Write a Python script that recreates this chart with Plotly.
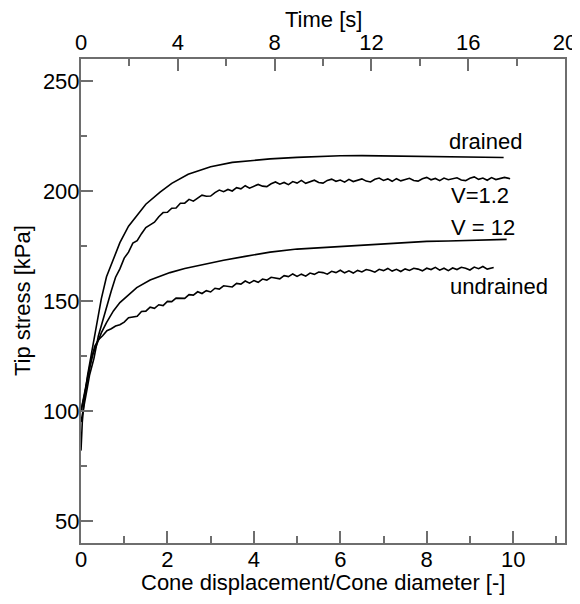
import plotly.graph_objects as go

# ---- data ----
drained_x = [0, 0.03, 0.08, 0.15, 0.25, 0.36, 0.47, 0.59, 0.75, 0.9, 1.1, 1.29, 1.5, 1.83,
             2.1, 2.48, 3.0, 3.5, 4.0, 4.375, 5.0, 5.5, 6.0, 6.5, 7.0, 7.5, 8.0, 8.5, 9.0, 9.4, 9.78]
drained_y = [82, 95, 106, 116, 127, 140, 151, 161, 169.5, 176.5, 184, 189, 194, 199.5,
             203.5, 207.6, 211, 213, 214, 214.6, 215.3, 215.7, 216, 216.1, 216, 215.9, 215.7, 215.5, 215.3, 215.2, 215.2]

v12_x = [0, 0.05, 0.1, 0.2, 0.28, 0.36, 0.47, 0.59, 0.75, 0.9, 1.1, 1.29, 1.6, 2.06, 2.4,
         2.83, 3.3, 3.8, 4.375, 5.0, 5.5, 6.0, 6.5, 7.0, 7.5, 8.0, 8.5, 9.0, 9.4, 9.85]
v12_y = [100, 105, 110, 120, 126, 130.3, 135.5, 140.2, 145.5, 149.3, 153, 156.1, 159.5, 162.9, 164.8,
         166.7, 168.5, 170.3, 172.2, 173.6, 174.2, 174.9, 175.6, 176.1, 176.6, 177.1, 177.3, 177.6, 177.9, 178.0]

v1_2_x = [0, 0.05, 0.1, 0.15, 0.2, 0.3, 0.4, 0.5, 0.6, 0.7, 0.8, 0.9,
          1.0, 1.1, 1.2, 1.3, 1.4, 1.5, 1.6, 1.7, 1.8, 1.9, 2.0, 2.1, 2.2, 2.3, 2.4, 2.5, 2.6, 2.7, 2.8, 2.9,
          3.0, 3.1, 3.2, 3.3, 3.4, 3.5, 3.6, 3.7, 3.8, 3.9, 4.0, 4.1, 4.2, 4.3, 4.4, 4.5, 4.6, 4.7, 4.8, 4.9,
          5.0, 5.1, 5.2, 5.3, 5.4, 5.5, 5.6, 5.7, 5.8, 5.9, 6.0, 6.1, 6.2, 6.3, 6.4, 6.5, 6.6, 6.7, 6.8, 6.9,
          7.0, 7.1, 7.2, 7.3, 7.4, 7.5, 7.6, 7.7, 7.8, 7.9, 8.0, 8.1, 8.2, 8.3, 8.4, 8.5, 8.6, 8.7, 8.8, 8.9,
          9.0, 9.1, 9.2, 9.3, 9.4, 9.5, 9.6, 9.7, 9.8, 9.93]
v1_2_y = [95, 101, 106.5, 111, 116.5, 124, 134, 141, 148.5, 154.5, 160.8, 164.6,
          169.5, 172.2, 176.3, 177.4, 180.6, 183.4, 184.6, 185.8, 188.3, 190.2, 190.3, 192.2, 192.3, 194.4, 194.5, 196.2, 195.4, 196.9, 198.1, 197.6,
          197.7, 199.3, 200.4, 199.7, 200.7, 200.0, 201.5, 201.0, 202.4, 201.3, 202.2, 203.0, 202.2, 202.0, 203.3, 204.1, 203.1, 203.9, 202.9, 204.3,
          203.6, 204.8, 203.5, 204.3, 204.9, 203.9, 203.6, 204.8, 205.4, 204.4, 205.0, 204.0, 205.3, 204.3, 204.9, 205.5, 204.5, 204.1, 205.3, 205.9,
          204.8, 205.5, 204.4, 205.6, 204.6, 205.3, 205.8, 204.8, 204.5, 205.6, 206.2, 205.1, 205.7, 204.7, 205.9, 205.1, 205.5, 206.0, 205.0, 204.7,
          205.8, 206.4, 205.3, 205.9, 204.9, 206.1, 205.2, 205.7, 206.2, 205.6]

und_x = [0, 0.05, 0.1, 0.15, 0.2, 0.25, 0.32, 0.4, 0.5, 0.6, 0.7, 0.8, 0.9,
         1.0, 1.1, 1.2, 1.3, 1.4, 1.5, 1.6, 1.7, 1.8, 1.9, 2.0, 2.1, 2.2, 2.3, 2.4, 2.5, 2.6, 2.7, 2.8, 2.9,
         3.0, 3.1, 3.2, 3.3, 3.4, 3.5, 3.6, 3.7, 3.8, 3.9, 4.0, 4.1, 4.2, 4.3, 4.4, 4.5, 4.6, 4.7, 4.8, 4.9,
         5.0, 5.1, 5.2, 5.3, 5.4, 5.5, 5.6, 5.7, 5.8, 5.9, 6.0, 6.1, 6.2, 6.3, 6.4, 6.5, 6.6, 6.7, 6.8, 6.9,
         7.0, 7.1, 7.2, 7.3, 7.4, 7.5, 7.6, 7.7, 7.8, 7.9, 8.0, 8.1, 8.2, 8.3, 8.4, 8.5, 8.6, 8.7, 8.8, 8.9,
         9.0, 9.1, 9.2, 9.3, 9.4, 9.55]
und_y = [100, 104, 109, 114, 119.5, 124.5, 129.5, 132.3, 134.2, 136.5, 137.4, 138.6, 139.2,
         140.4, 142.4, 142.9, 143.1, 145.2, 145.4, 147.2, 146.7, 148.3, 147.9, 149.8, 149.7, 151.3, 151.4, 151.2, 152.9, 152.7, 154.2, 153.4, 154.7,
         154.1, 155.8, 155.4, 156.9, 156.8, 156.4, 158.0, 157.7, 159.1, 158.1, 159.3, 158.5, 160.0, 159.5, 160.8, 160.6, 160.1, 161.5, 161.1, 162.3,
         161.2, 162.2, 161.3, 162.7, 162.1, 163.2, 162.9, 162.2, 163.5, 162.9, 164.0, 162.8, 163.7, 162.7, 163.9, 163.2, 164.3, 163.9, 163.1, 164.4,
         163.8, 164.8, 163.6, 164.4, 163.4, 164.6, 163.9, 164.9, 164.5, 163.7, 164.9, 164.3, 165.3, 164.0, 164.9, 163.8, 165.0, 164.3, 165.3, 164.9,
         164.1, 165.4, 164.7, 165.7, 164.5, 165.2]

series_names = ["drained", "V=1.2", "V = 12", "undrained"]
label_x = [9.35, 9.24, 9.30, 9.68]
label_y = [222.7, 198.0, 183.6, 156.8]

x_ticks = [0, 2, 4, 6, 8, 10]
time_ticks = [0, 4, 8, 12, 16, 20]
y_ticks = [50, 100, 150, 200, 250]

x_title = "Cone displacement/Cone diameter [-]"
time_title = "Time [s]"
y_title = "Tip stress [kPa]"

FONT = "Liberation Sans, Arial, sans-serif"
GRAY = "#6e6e6e"
FS = 22

fig = go.Figure()
line = dict(color="black", width=1.6)
for xs, ys, nm in [(drained_x, drained_y, series_names[0]), (v1_2_x, v1_2_y, series_names[1]),
                   (v12_x, v12_y, series_names[2]), (und_x, und_y, series_names[3])]:
    fig.add_trace(go.Scatter(x=xs, y=ys, mode="lines", line=line, name=nm,
                             showlegend=False, hoverinfo="skip"))

# invisible trace to carry the time axis
fig.add_trace(go.Scatter(x=[time_ticks[0], time_ticks[-1]], y=[100, 100], xaxis="x2",
                         mode="lines", line=dict(width=0), opacity=0,
                         showlegend=False, hoverinfo="skip"))

for nm, lx, ly in zip(series_names, label_x, label_y):
    fig.add_annotation(x=lx, y=ly, text=nm, showarrow=False,
                       font=dict(family=FONT, size=FS, color="black"))

tfont = dict(family=FONT, size=FS, color="black")
# axis titles
fig.add_annotation(xref="paper", yref="paper", x=0.5, y=-0.0826, text=x_title,
                   showarrow=False, font=tfont, xanchor="center", yanchor="middle")
fig.add_annotation(xref="paper", yref="paper", x=0.5, y=1.0806, text=time_title,
                   showarrow=False, font=tfont, xanchor="center", yanchor="middle")
fig.add_annotation(xref="paper", yref="paper", x=-0.1219, y=0.5, text=y_title, textangle=-90,
                   showarrow=False, font=tfont, xanchor="center", yanchor="middle")

axis_common = dict(showline=True, linecolor=GRAY, linewidth=2, ticks="inside",
                   tickcolor=GRAY, tickwidth=1.5, showgrid=False, zeroline=False,
                   automargin=False, tickfont=tfont)

# page body adds an 8px offset, so the figure is 8px smaller and margins shifted
fig.update_layout(
    width=572, height=596,
    margin=dict(l=73, r=15, t=51, b=61),
    plot_bgcolor="white", paper_bgcolor="white",
    xaxis=dict(range=[0, 11.2], tickvals=x_ticks, ticklen=12, ticklabelstandoff=-4,
               minor=dict(dtick=1, tick0=0, ticks="inside", ticklen=7, tickcolor=GRAY, tickwidth=1.5),
               **axis_common),
    xaxis2=dict(range=[0, 20], overlaying="x", side="top", tickvals=time_ticks, ticklen=12,
                ticklabelstandoff=-2,
                minor=dict(dtick=2, tick0=0, ticks="inside", ticklen=7, tickcolor=GRAY, tickwidth=1.5),
                **axis_common),
    yaxis=dict(range=[40, 260], tickvals=y_ticks, ticklen=12, mirror=True, ticklabelstandoff=-5,
               minor=dict(dtick=25, tick0=0, ticks="inside", ticklen=6, tickcolor=GRAY, tickwidth=1.5),
               **axis_common),
)

fig.write_html("out.html")
